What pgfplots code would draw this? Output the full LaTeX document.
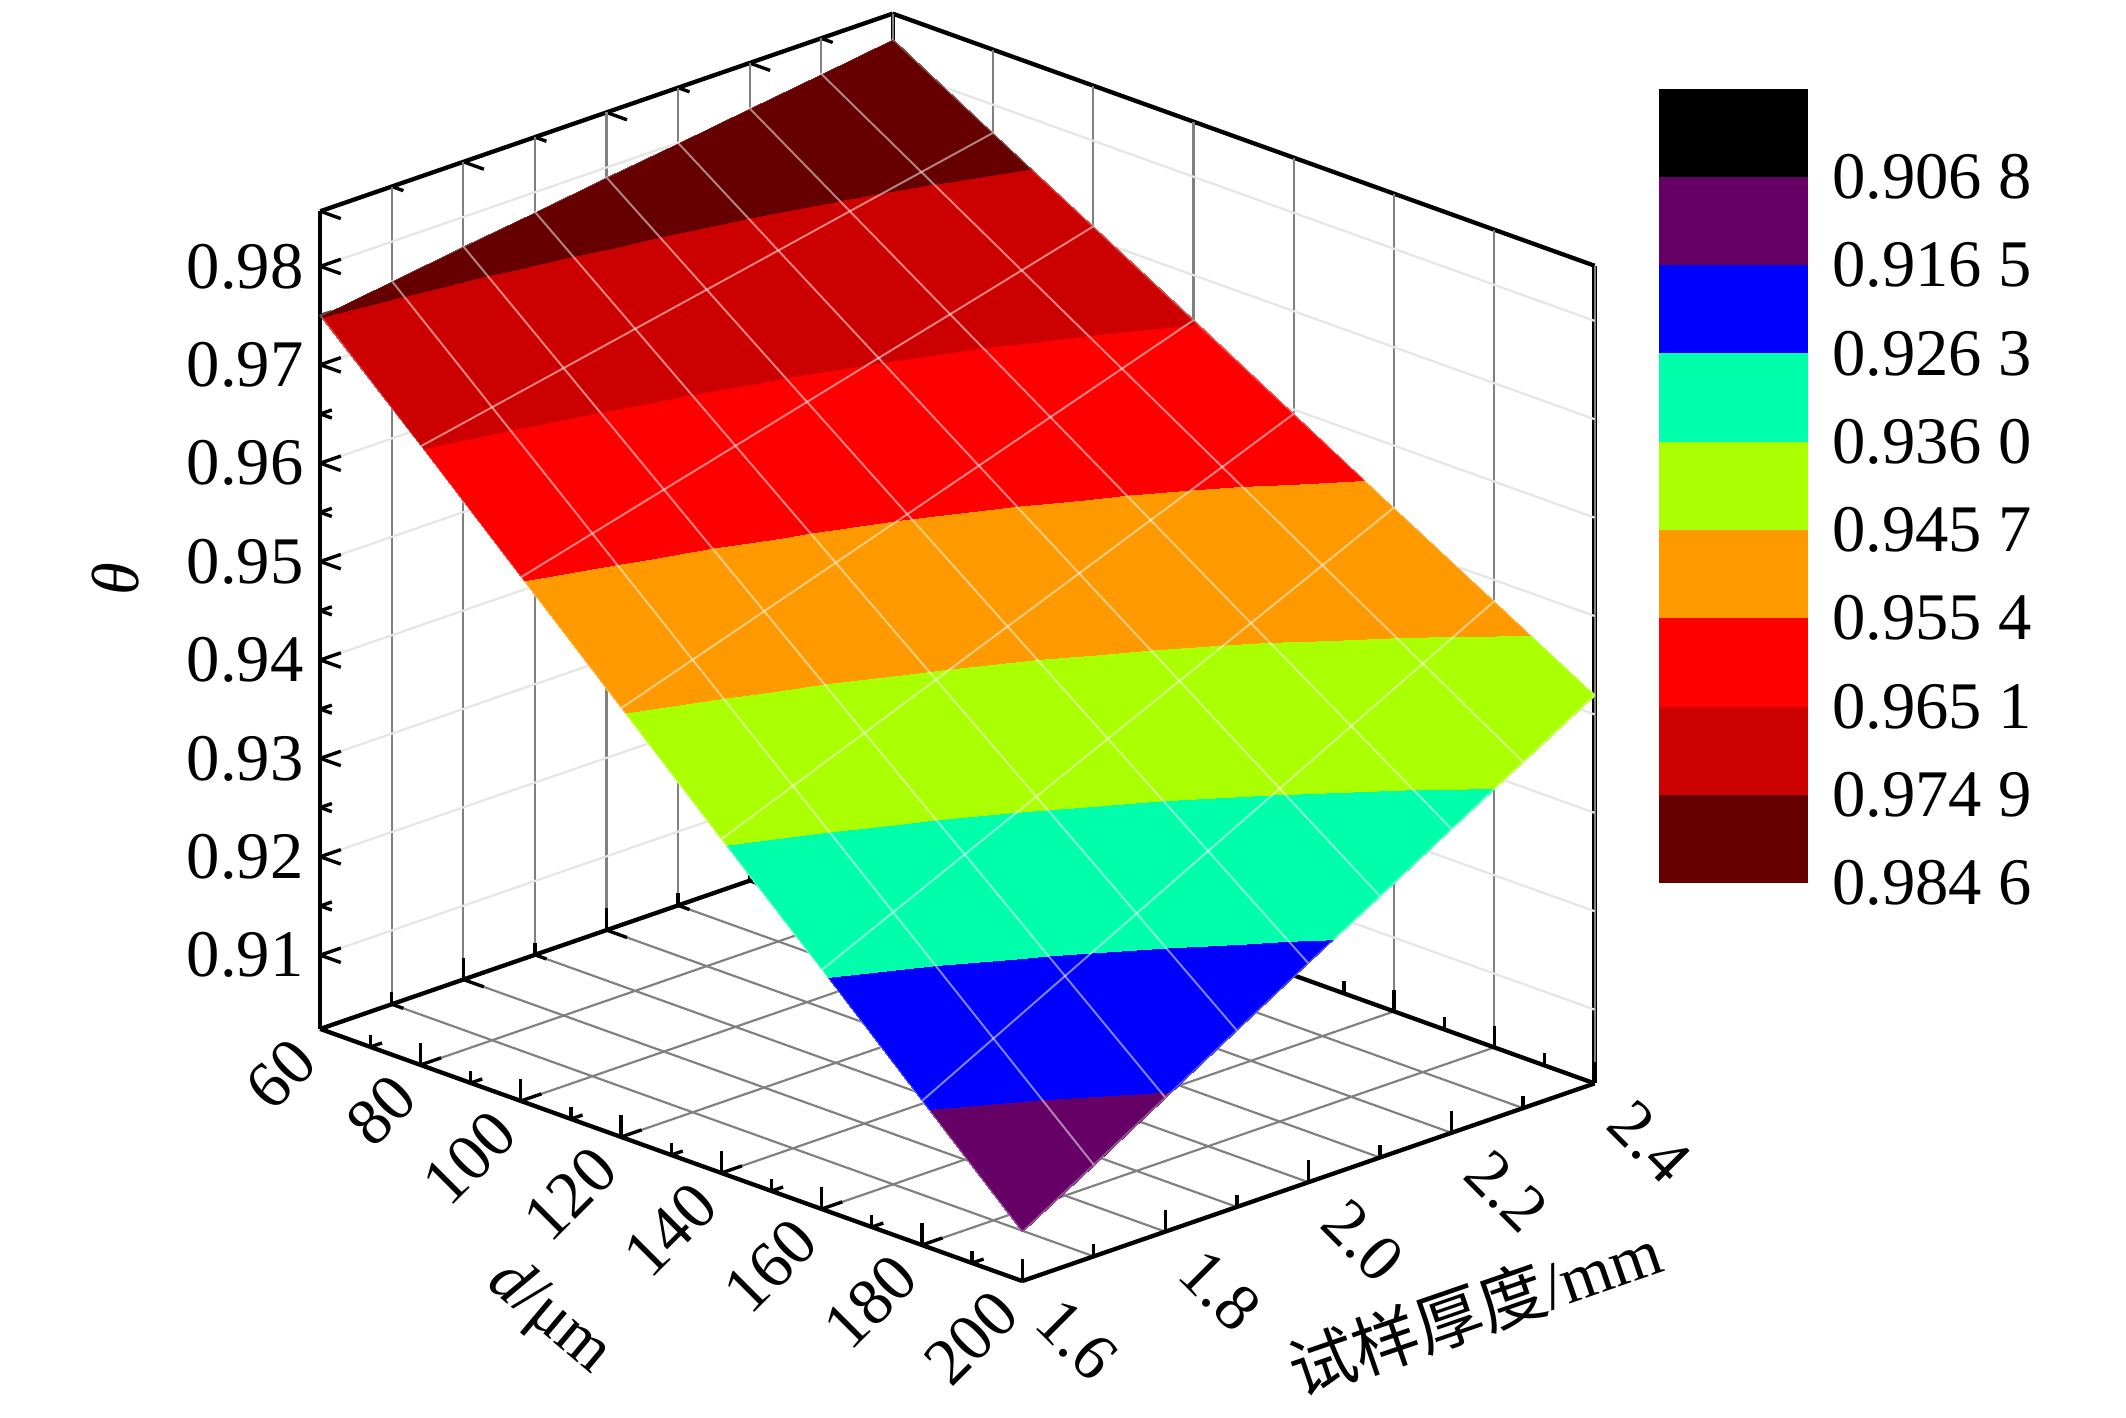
\documentclass[border=0pt]{standalone}
\usepackage{fontspec}
\setmainfont{Liberation Serif}
\newfontfamily\cjk{Noto Sans CJK SC}
\usepackage{pgfplots}
\usepackage{pgfplotstable}
\pgfplotsset{compat=1.18}
\definecolor{cbA}{RGB}{0,0,0}
\definecolor{cbB}{RGB}{102,0,102}
\definecolor{cbC}{RGB}{0,0,255}
\definecolor{cbD}{RGB}{0,255,170}
\definecolor{cbE}{RGB}{170,255,0}
\definecolor{cbF}{RGB}{255,153,0}
\definecolor{cbG}{RGB}{255,0,0}
\definecolor{cbH}{RGB}{204,0,0}
\definecolor{cbI}{RGB}{102,0,0}
\newcommand{\fsz}{\fontsize{13.9}{16}\selectfont}
\begin{document}
\pgfplotstableread{
d t theta
60 1.6 0.97500
80 1.6 0.96536
100 1.6 0.95571
120 1.6 0.94607
140 1.6 0.93643
160 1.6 0.92679
180 1.6 0.91714
200 1.6 0.90750
60 1.7 0.97600
80 1.7 0.96683
100 1.7 0.95766
120 1.7 0.94849
140 1.7 0.93932
160 1.7 0.93015
180 1.7 0.92098
200 1.7 0.91181
60 1.8 0.97700
80 1.8 0.96830
100 1.8 0.95961
120 1.8 0.95091
140 1.8 0.94221
160 1.8 0.93352
180 1.8 0.92482
200 1.8 0.91613
60 1.9 0.97800
80 1.9 0.96978
100 1.9 0.96155
120 1.9 0.95333
140 1.9 0.94511
160 1.9 0.93688
180 1.9 0.92866
200 1.9 0.92044
60 2.0 0.97900
80 2.0 0.97125
100 2.0 0.96350
120 2.0 0.95575
140 2.0 0.94800
160 2.0 0.94025
180 2.0 0.93250
200 2.0 0.92475
60 2.1 0.98000
80 2.1 0.97272
100 2.1 0.96545
120 2.1 0.95817
140 2.1 0.95089
160 2.1 0.94362
180 2.1 0.93634
200 2.1 0.92906
60 2.2 0.98100
80 2.2 0.97420
100 2.2 0.96739
120 2.2 0.96059
140 2.2 0.95379
160 2.2 0.94698
180 2.2 0.94018
200 2.2 0.93338
60 2.3 0.98200
80 2.3 0.97567
100 2.3 0.96934
120 2.3 0.96301
140 2.3 0.95668
160 2.3 0.95035
180 2.3 0.94402
200 2.3 0.93769
60 2.4 0.98300
80 2.4 0.97714
100 2.4 0.97129
120 2.4 0.96543
140 2.4 0.95957
160 2.4 0.95371
180 2.4 0.94786
200 2.4 0.94200
}\surfdata
\begin{tikzpicture}
\begin{axis}[
  x={(0.036786cm,-0.013214cm)},
  y={(5.25cm,1.8125cm)},
  z={(0cm,72.202cm)},
  xmin=60, xmax=200, ymin=1.6, ymax=2.4, zmin=0.9025, zmax=0.9856,
  xtick={60,80,100,120,140,160,180,200}, minor x tick num=1,
  ytick={1.6,1.8,2.0,2.2,2.4}, minor y tick num=1,
  ztick={0.91,0.92,0.93,0.94,0.95,0.96,0.97,0.98}, minor z tick num=1,
  xtick pos=left, ytick pos=left, ztick pos=left,
  xmajorgrids, ymajorgrids, yminorgrids, zmajorgrids,
  x grid style={black!50, line width=0.45pt},
  y grid style={black!50, line width=0.45pt},
  minor grid style={black!50, line width=0.45pt},
  z grid style={black!10, line width=0.45pt},
  axis line style={black, line width=0.9pt},
  tick style={black, line width=0.7pt},
  major tick length=0.16cm, minor tick length=0.09cm,
  every tick label/.append style={font=\fsz},
  /pgf/number format/assume math mode=true,
  xticklabel style={rotate=45, anchor=east, xshift=-0.07cm, yshift=-0.03cm},
  yticklabel style={rotate=-45, anchor=west, xshift=0.16cm, yshift=-0.02cm, /pgf/number format/fixed, /pgf/number format/fixed zerofill, /pgf/number format/precision=1},
  zticklabel style={anchor=east, /pgf/number format/fixed, /pgf/number format/fixed zerofill, /pgf/number format/precision=2},
  point meta min=0.89707, point meta max=0.98460,
  colormap={origin}{rgb255=(0,0,0) rgb255=(102,0,102) rgb255=(0,0,255) rgb255=(0,255,170) rgb255=(170,255,0) rgb255=(255,153,0) rgb255=(255,0,0) rgb255=(204,0,0) rgb255=(102,0,0)},
  clip=false,
]
\addplot3[surf, shader=interp, colormap access=piecewise constant, mesh/rows=9, mesh/cols=8] table[x=d, y=t, z=theta] {\surfdata};
\addplot3[surf, shader=faceted, faceted color=white, fill opacity=0, draw opacity=0.3, line width=0.4pt, mesh/rows=9, mesh/cols=8] table[x=d, y=t, z=theta] {\surfdata};
\coordinate (L0) at (axis cs:60,1.6,0.9025);
\end{axis}
\coordinate (CB) at ([shift={(9.82cm,1.07cm)}]L0);
\begin{axis}[
  at={(CB)}, anchor=south west,
  scale only axis, width=1.1cm, height=5.83cm,
  xmin=0, xmax=1, ymin=0, ymax=9, y dir=reverse,
  axis line style={draw=none}, tick style={draw=none},
  xtick=\empty, ytick={1,2,3,4,5,6,7,8,9},
  yticklabels={0.906 8,0.916 5,0.926 3,0.936 0,0.945 7,0.955 4,0.965 1,0.974 9,0.984 6},
  yticklabel pos=right,
  yticklabel style={font=\fsz, anchor=west, xshift=0.05cm},
  clip=false,
]
\addplot[draw=none, fill=cbA] coordinates {(0,0) (1,0) (1,1) (0,1)} --cycle;
\addplot[draw=none, fill=cbB] coordinates {(0,1) (1,1) (1,2) (0,2)} --cycle;
\addplot[draw=none, fill=cbC] coordinates {(0,2) (1,2) (1,3) (0,3)} --cycle;
\addplot[draw=none, fill=cbD] coordinates {(0,3) (1,3) (1,4) (0,4)} --cycle;
\addplot[draw=none, fill=cbE] coordinates {(0,4) (1,4) (1,5) (0,5)} --cycle;
\addplot[draw=none, fill=cbF] coordinates {(0,5) (1,5) (1,6) (0,6)} --cycle;
\addplot[draw=none, fill=cbG] coordinates {(0,6) (1,6) (1,7) (0,7)} --cycle;
\addplot[draw=none, fill=cbH] coordinates {(0,7) (1,7) (1,8) (0,8)} --cycle;
\addplot[draw=none, fill=cbI] coordinates {(0,8) (1,8) (1,9) (0,9)} --cycle;
\end{axis}
\node[rotate=90, font=\fsz\itshape] at ([shift={(-1.50cm,3.30cm)}]L0) {θ};
\node[rotate=-40, font=\fsz] at ([shift={(1.68cm,-2.12cm)}]L0) {\textit{d}/μm};
\node[rotate=19, font=\fsz] at ([shift={(8.47cm,-2.06cm)}]L0) {{\cjk 试样厚度}/mm};
\pgfresetboundingbox
\path[use as bounding box] ([shift={(-2.35cm,-2.85cm)}]L0) rectangle ([shift={(13.25cm,7.55cm)}]L0);
\end{tikzpicture}
\end{document}
